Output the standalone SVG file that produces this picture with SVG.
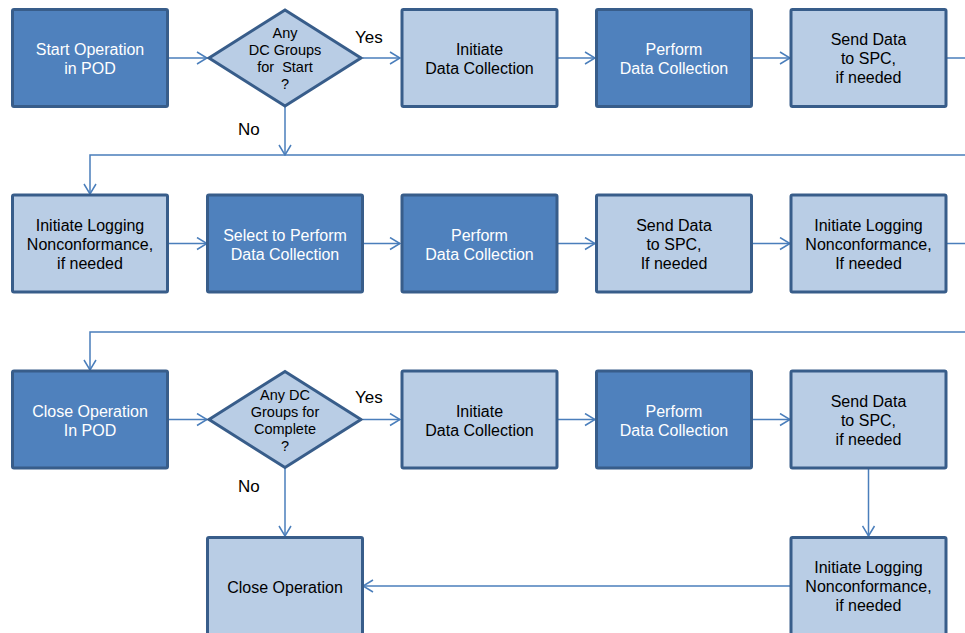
<svg xmlns="http://www.w3.org/2000/svg" width="965" height="633" viewBox="0 0 965 633">
  <style>
    .dark { fill: #4F81BD; stroke: #385D8A; stroke-width: 3; }
    .light { fill: #B9CDE5; stroke: #385D8A; stroke-width: 3; }
    .t { font-family: "Liberation Sans", Arial, sans-serif; font-size: 16px; text-anchor: middle; }
    .w { fill: #FFFFFF; }
    .b { fill: #000000; }
    .q { font-family: "Liberation Sans", Arial, sans-serif; font-size: 14.5px; text-anchor: middle; fill: #000000; }
    .lbl { font-family: "Liberation Sans", Arial, sans-serif; font-size: 17px; fill: #000000; }
    .conn { fill: none; stroke: #4A7EBB; stroke-width: 1.5; }
  </style>
  <defs>
    <marker id="arrow" viewBox="0 0 12 14" refX="11" refY="7" markerWidth="12" markerHeight="14" markerUnits="userSpaceOnUse" orient="auto">
      <path d="M1,1 L11,7 L1,13" fill="none" stroke="#4A7EBB" stroke-width="1.5"/>
    </marker>
  </defs>

  <rect width="965" height="633" fill="#FFFFFF"/>

  <!-- connectors -->
  <g id="connectors" class="conn">
    <!-- row 1 -->
    <path d="M169,58 H207" marker-end="url(#arrow)"/>
    <path d="M363,58 H400" marker-end="url(#arrow)"/>
    <path d="M558,58 H595" marker-end="url(#arrow)"/>
    <path d="M753,58 H790" marker-end="url(#arrow)"/>
    <path d="M947,58 H965"/>
    <path d="M285,107 V155" marker-end="url(#arrow)"/>
    <path d="M965,155 H90 V194" marker-end="url(#arrow)"/>
    <!-- row 2 -->
    <path d="M169,243.5 H207" marker-end="url(#arrow)"/>
    <path d="M363,243.5 H400" marker-end="url(#arrow)"/>
    <path d="M558,243.5 H595" marker-end="url(#arrow)"/>
    <path d="M753,243.5 H790" marker-end="url(#arrow)"/>
    <path d="M947,243.5 H965"/>
    <path d="M965,332 H90 V370" marker-end="url(#arrow)"/>
    <!-- row 3 -->
    <path d="M169,419.5 H207" marker-end="url(#arrow)"/>
    <path d="M363,419.5 H400" marker-end="url(#arrow)"/>
    <path d="M558,419.5 H595" marker-end="url(#arrow)"/>
    <path d="M753,419.5 H790" marker-end="url(#arrow)"/>
    <path d="M868.5,469 V536" marker-end="url(#arrow)"/>
    <path d="M285,468 V536" marker-end="url(#arrow)"/>
    <!-- row 4 -->
    <path d="M790,586 H363" marker-end="url(#arrow)"/>
  </g>

  <!-- branch labels -->
  <g id="labels">
    <text class="lbl" x="355" y="43">Yes</text>
    <text class="lbl" x="238" y="135">No</text>
    <text class="lbl" x="355" y="403">Yes</text>
    <text class="lbl" x="238" y="492">No</text>
  </g>

  <!-- row 1 -->
  <g id="start-operation">
    <rect class="dark" x="12.5" y="9.5" width="155" height="97" rx="1.5"/>
    <text class="t w" x="90" y="55">Start Operation</text>
    <text class="t w" x="90" y="74">in POD</text>
  </g>
  <g id="dc-start-decision">
    <polygon class="light" points="285,10 361,58 285,106 209,58"/>
    <text class="q" x="285" y="38">Any</text>
    <text class="q" x="285" y="55">DC Groups</text>
    <text class="q" x="285" y="72">for &#160;Start</text>
    <text class="q" x="285" y="89">?</text>
  </g>
  <g id="initiate-dc-1">
    <rect class="light" x="402" y="9.5" width="155" height="97" rx="1.5"/>
    <text class="t b" x="479.5" y="55">Initiate</text>
    <text class="t b" x="479.5" y="74">Data Collection</text>
  </g>
  <g id="perform-dc-1">
    <rect class="dark" x="596.5" y="9.5" width="155" height="97" rx="1.5"/>
    <text class="t w" x="674" y="55">Perform</text>
    <text class="t w" x="674" y="74">Data Collection</text>
  </g>
  <g id="send-spc-1">
    <rect class="light" x="791" y="9.5" width="155" height="97" rx="1.5"/>
    <text class="t b" x="868.5" y="45">Send Data</text>
    <text class="t b" x="868.5" y="64">to SPC,</text>
    <text class="t b" x="868.5" y="83">if needed</text>
  </g>

  <!-- row 2 -->
  <g id="log-nc-1">
    <rect class="light" x="12.5" y="195" width="155" height="97" rx="1.5"/>
    <text class="t b" x="90" y="231">Initiate Logging</text>
    <text class="t b" x="90" y="250">Nonconformance,</text>
    <text class="t b" x="90" y="269">if needed</text>
  </g>
  <g id="select-dc">
    <rect class="dark" x="207.5" y="195" width="155" height="97" rx="1.5"/>
    <text class="t w" x="285" y="240.5">Select to Perform</text>
    <text class="t w" x="285" y="259.5">Data Collection</text>
  </g>
  <g id="perform-dc-2">
    <rect class="dark" x="402" y="195" width="155" height="97" rx="1.5"/>
    <text class="t w" x="479.5" y="240.5">Perform</text>
    <text class="t w" x="479.5" y="259.5">Data Collection</text>
  </g>
  <g id="send-spc-2">
    <rect class="light" x="596.5" y="195" width="155" height="97" rx="1.5"/>
    <text class="t b" x="674" y="231">Send Data</text>
    <text class="t b" x="674" y="250">to SPC,</text>
    <text class="t b" x="674" y="269">If needed</text>
  </g>
  <g id="log-nc-2">
    <rect class="light" x="791" y="195" width="155" height="97" rx="1.5"/>
    <text class="t b" x="868.5" y="231">Initiate Logging</text>
    <text class="t b" x="868.5" y="250">Nonconformance,</text>
    <text class="t b" x="868.5" y="269">If needed</text>
  </g>

  <!-- row 3 -->
  <g id="close-operation-pod">
    <rect class="dark" x="12.5" y="371" width="155" height="97" rx="1.5"/>
    <text class="t w" x="90" y="416.5">Close Operation</text>
    <text class="t w" x="90" y="435.5">In POD</text>
  </g>
  <g id="dc-complete-decision">
    <polygon class="light" points="285,371.5 361,419.5 285,467.5 209,419.5"/>
    <text class="q" x="285" y="399.5">Any DC</text>
    <text class="q" x="285" y="416.5">Groups for</text>
    <text class="q" x="285" y="433.5">Complete</text>
    <text class="q" x="285" y="450.5">?</text>
  </g>
  <g id="initiate-dc-2">
    <rect class="light" x="402" y="371" width="155" height="97" rx="1.5"/>
    <text class="t b" x="479.5" y="416.5">Initiate</text>
    <text class="t b" x="479.5" y="435.5">Data Collection</text>
  </g>
  <g id="perform-dc-3">
    <rect class="dark" x="596.5" y="371" width="155" height="97" rx="1.5"/>
    <text class="t w" x="674" y="416.5">Perform</text>
    <text class="t w" x="674" y="435.5">Data Collection</text>
  </g>
  <g id="send-spc-3">
    <rect class="light" x="791" y="371" width="155" height="97" rx="1.5"/>
    <text class="t b" x="868.5" y="406.5">Send Data</text>
    <text class="t b" x="868.5" y="425.5">to SPC,</text>
    <text class="t b" x="868.5" y="444.5">if needed</text>
  </g>

  <!-- row 4 -->
  <g id="close-operation">
    <rect class="light" x="207.5" y="537.5" width="155" height="97" rx="1.5"/>
    <text class="t b" x="285" y="592.5">Close Operation</text>
  </g>
  <g id="log-nc-3">
    <rect class="light" x="791" y="537.5" width="155" height="97" rx="1.5"/>
    <text class="t b" x="868.5" y="573">Initiate Logging</text>
    <text class="t b" x="868.5" y="592">Nonconformance,</text>
    <text class="t b" x="868.5" y="611">if needed</text>
  </g>
</svg>
